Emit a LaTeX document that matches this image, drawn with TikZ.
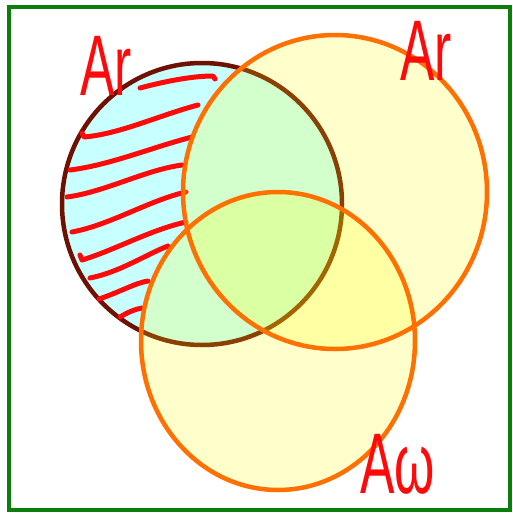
\documentclass[tikz,border=0pt]{standalone}
\usepackage{fontspec}
\setmainfont{Liberation Sans}
\definecolor{framegreen}{HTML}{0A7D0A}
\definecolor{ringbrown}{HTML}{6E1002}
\definecolor{ringorange}{HTML}{FF7000}
\definecolor{cyanfill}{HTML}{C8FFFF}
\definecolor{yelfill}{HTML}{FFFF00}
\definecolor{penred}{HTML}{FF0A0A}
\tikzset{
  setring/.style={line width=4.5pt},
  hatchline/.style={penred, line width=5pt, line cap=round, line join=round},
  handlabel/.style={penred, font=\fontsize{86}{86}\selectfont, xscale=0.6, inner sep=0pt, anchor=base west},
}
\begin{document}
\begin{tikzpicture}[x=1pt,y=-1pt]
\useasboundingbox (0,0) rectangle (513,514);
\fill[white] (0,0) rectangle (513,514);
% left set
\fill[cyanfill] (202,204) ellipse [x radius=140, y radius=141];
\draw[setring, ringbrown] (202,204) ellipse [x radius=140, y radius=141];
% hatching
\draw[hatchline] (140,88) .. controls (170,80) and (195,76) .. (213,76) -- (215,79);
\draw[hatchline] (82,133) -- (84,137) .. controls (120,134) and (160,115) .. (198,105);
\draw[hatchline] (70,170) .. controls (110,165) and (150,148) .. (192,137);
\draw[hatchline] (67,197) .. controls (105,192) and (145,170) .. (182,165);
\draw[hatchline] (72,232) .. controls (110,225) and (150,200) .. (186,192);
\draw[hatchline] (80,255) -- (82,260) .. controls (115,250) and (150,230) .. (186,222);
\draw[hatchline] (90,278) .. controls (120,272) and (145,255) .. (168,246);
\draw[hatchline] (99,299) .. controls (120,292) and (135,283) .. (148,281);
\draw[hatchline] (120,317) .. controls (128,312) and (136,309) .. (142,308);
% yellow sets
\fill[yelfill, fill opacity=0.2] (335,192) ellipse [x radius=152, y radius=157];
\fill[yelfill, fill opacity=0.2] (278,341) ellipse [x radius=137, y radius=149];
\draw[setring, ringorange] (335,192) ellipse [x radius=152, y radius=157];
\draw[setring, ringorange] (278,341) ellipse [x radius=137, y radius=149];
% frame
\draw[framegreen, line width=4pt] (9,6.5) rectangle (509.5,510);
% labels
\node[handlabel] (l1) at (80,95) {Ar};
\node[handlabel] (l2) at (400,80) {Ar};
\node[handlabel] (l3) at (360,493) {Aω};
\end{tikzpicture}
\end{document}
